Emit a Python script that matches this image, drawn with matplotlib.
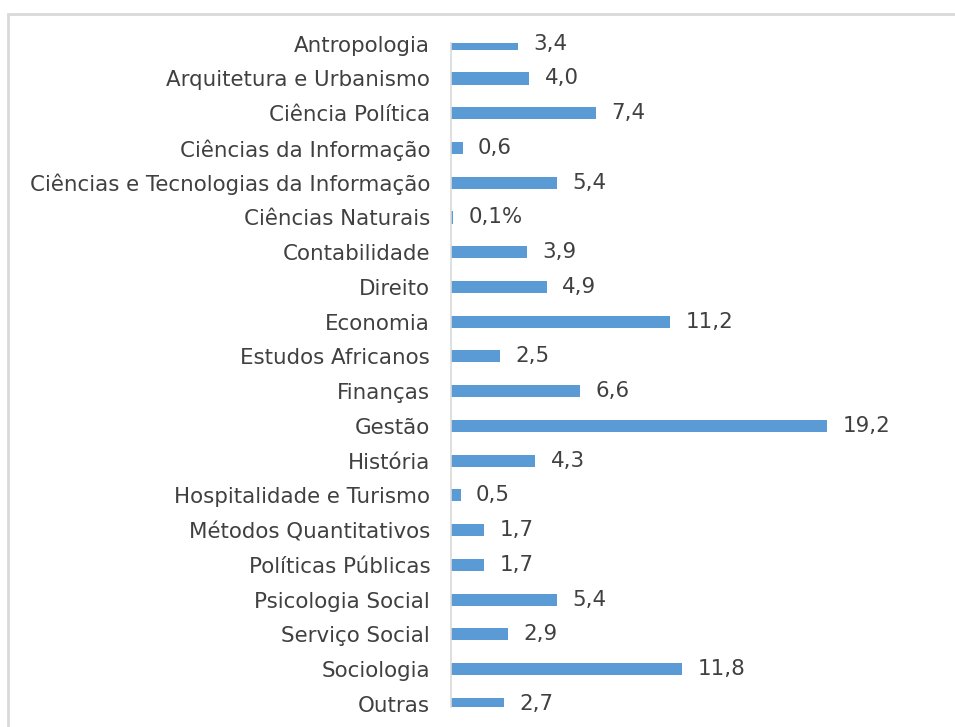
import matplotlib
matplotlib.use("Agg")
from matplotlib import pyplot as plt
from matplotlib.patches import Rectangle

categories = [
    "Antropologia", "Arquitetura e Urbanismo", "Ciência Política",
    "Ciências da Informação", "Ciências e Tecnologias da Informação",
    "Ciências Naturais", "Contabilidade", "Direito", "Economia",
    "Estudos Africanos", "Finanças", "Gestão", "História",
    "Hospitalidade e Turismo", "Métodos Quantitativos", "Políticas Públicas",
    "Psicologia Social", "Serviço Social", "Sociologia", "Outras",
]
values = [3.4, 4.0, 7.4, 0.6, 5.4, 0.1, 3.9, 4.9, 11.2, 2.5,
          6.6, 19.2, 4.3, 0.5, 1.7, 1.7, 5.4, 2.9, 11.8, 2.7]
value_labels = ["3,4", "4,0", "7,4", "0,6", "5,4", "0,1%", "3,9", "4,9", "11,2", "2,5",
                "6,6", "19,2", "4,3", "0,5", "1,7", "1,7", "5,4", "2,9", "11,8", "2,7"]

bar_color = "#5B9BD5"
text_color = "#404040"
fsize = 15.4

fig = plt.figure(figsize=(9.55, 7.27), dpi=100)

# light grey frame of the chart area (cut at right and bottom)
fig.patches.append(Rectangle((8 / 955, -0.05), 1.2, 1 - 14 / 727 + 0.05,
                             transform=fig.transFigure, fill=False,
                             edgecolor="#D9D9D9", linewidth=2))

ax = fig.add_axes([451 / 955, 20 / 727, 470 / 955, (707 - 43) / 727])

ypos = list(range(len(categories)))
ax.barh(ypos, values, height=0.35, color=bar_color)

for y, v, lab in zip(ypos, values, value_labels):
    ax.annotate(lab, xy=(v, y), xytext=(11, 0), textcoords="offset points",
                va="center", ha="left", fontsize=fsize, color=text_color)

ax.set_yticks(ypos)
ax.set_yticklabels(categories, fontsize=fsize, color=text_color)
ax.tick_params(axis="y", length=0, pad=15)
ax.set_xticks([])
ax.set_xlim(0, 24)
ax.set_ylim(19.09, -0.02)

for s in ["top", "right", "bottom"]:
    ax.spines[s].set_visible(False)
ax.spines["left"].set_color("#D9D9D9")
ax.spines["left"].set_linewidth(1.2)

fig.savefig("out.png", dpi=100)
